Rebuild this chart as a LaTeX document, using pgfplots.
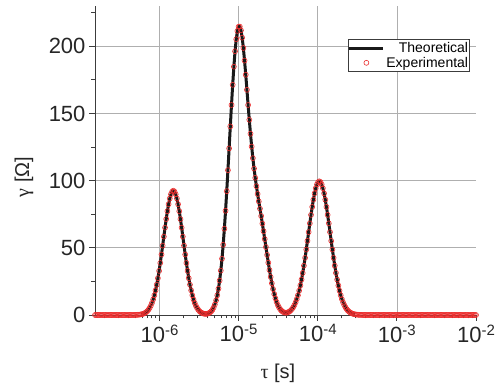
\documentclass[border=0pt]{standalone}
\usepackage{fontspec}
\setmainfont{Liberation Sans}
\newfontfamily\greekfont{Liberation Serif}
\usepackage{pgfplots}
\usepackage{pgfplotstable}
\pgfplotsset{compat=1.18}
\definecolor{axgray}{RGB}{60,60,60}
\definecolor{gridgray}{RGB}{175,175,175}
\definecolor{expred}{RGB}{235,45,45}
\newcommand{\ex}[1]{10\raisebox{7pt}{\fontsize{15}{15}\selectfont #1}}
% x = log10(tau/s), y = gamma in Ohm
\pgfplotstableread[row sep=\\]{
x y\\
-6.815 0\\ -6.800 0\\ -6.785 0\\ -6.770 0\\ -6.755 0\\ -6.740 0\\ -6.725 0\\ -6.710 0\\
-6.695 0\\ -6.680 0\\ -6.665 0\\ -6.650 0\\ -6.635 0\\ -6.620 0\\ -6.605 0\\ -6.590 0\\
-6.575 0\\ -6.560 0\\ -6.545 0\\ -6.530 0\\ -6.515 0\\ -6.500 0\\ -6.485 0\\ -6.470 0\\
-6.455 0\\ -6.440 0\\ -6.425 0\\ -6.410 0\\ -6.395 0\\ -6.380 0\\ -6.365 0\\ -6.350 0\\
-6.335 0\\ -6.320 0\\
-6.305 0.06\\ -6.290 0.09\\ -6.275 0.14\\ -6.260 0.22\\ -6.245 0.33\\ -6.230 0.49\\ -6.215 0.71\\ -6.200 1.03\\
-6.185 1.46\\ -6.170 2.05\\ -6.155 2.84\\ -6.140 3.87\\ -6.125 5.19\\ -6.110 6.88\\ -6.095 8.98\\ -6.080 11.55\\
-6.065 14.64\\ -6.050 18.31\\ -6.035 22.56\\ -6.020 27.40\\ -6.005 32.80\\ -5.990 38.71\\ -5.975 45.02\\ -5.960 51.63\\
-5.945 58.35\\ -5.930 65.00\\ -5.915 71.38\\ -5.900 77.26\\ -5.885 82.44\\ -5.870 86.70\\ -5.855 89.87\\ -5.840 91.84\\
-5.825 92.50\\ -5.810 91.84\\ -5.795 89.87\\ -5.780 86.70\\ -5.765 82.44\\ -5.750 77.26\\ -5.735 71.38\\ -5.720 65.00\\
-5.705 58.35\\ -5.690 51.63\\ -5.675 45.02\\ -5.660 38.71\\ -5.645 32.80\\ -5.630 27.40\\ -5.615 22.56\\ -5.600 18.31\\
-5.585 14.64\\ -5.570 11.55\\ -5.555 8.98\\ -5.540 6.88\\ -5.525 5.19\\ -5.510 3.87\\ -5.495 2.84\\ -5.480 2.10\\
-5.465 1.54\\ -5.450 1.16\\ -5.435 0.92\\ -5.420 0.83\\ -5.405 0.86\\ -5.390 1.04\\ -5.375 1.38\\ -5.360 1.95\\
-5.345 2.79\\ -5.330 3.95\\ -5.315 5.62\\ -5.300 7.86\\ -5.285 10.83\\ -5.270 14.67\\ -5.255 19.54\\ -5.240 25.62\\
-5.225 33.03\\ -5.210 41.89\\ -5.195 52.28\\ -5.180 64.22\\ -5.165 77.57\\ -5.150 92.18\\ -5.135 107.78\\ -5.120 123.98\\
-5.105 140.33\\ -5.090 156.30\\ -5.075 171.32\\ -5.060 184.83\\ -5.045 196.30\\ -5.030 205.28\\ -5.015 211.43\\ -5.000 214.57\\
-4.985 214.67\\ -4.970 211.86\\ -4.955 206.42\\ -4.940 198.75\\ -4.925 189.37\\ -4.910 178.82\\ -4.895 167.62\\ -4.880 156.31\\
-4.865 145.30\\ -4.850 134.91\\ -4.835 125.36\\ -4.820 116.73\\ -4.805 109.01\\ -4.790 102.10\\ -4.775 95.86\\ -4.760 90.07\\
-4.745 84.54\\ -4.730 79.12\\ -4.715 73.66\\ -4.700 68.07\\ -4.685 62.35\\ -4.670 56.51\\ -4.655 50.60\\ -4.640 44.72\\
-4.625 38.97\\ -4.610 33.47\\ -4.595 28.31\\ -4.580 23.58\\ -4.565 19.32\\ -4.550 15.58\\ -4.535 12.37\\ -4.520 9.70\\
-4.505 7.45\\ -4.490 5.68\\ -4.475 4.30\\ -4.460 3.26\\ -4.445 2.51\\ -4.430 2.02\\ -4.415 1.76\\ -4.400 1.70\\
-4.385 1.84\\ -4.370 2.16\\ -4.355 2.70\\ -4.340 3.46\\ -4.325 4.47\\ -4.310 5.77\\ -4.295 7.38\\ -4.280 9.39\\
-4.265 11.83\\ -4.250 14.71\\ -4.235 18.08\\ -4.220 21.97\\ -4.205 26.38\\ -4.190 31.30\\ -4.175 36.71\\ -4.160 42.54\\
-4.145 48.73\\ -4.130 55.16\\ -4.115 61.70\\ -4.100 68.21\\ -4.085 74.52\\ -4.070 80.46\\ -4.055 85.85\\ -4.040 90.54\\
-4.025 94.36\\ -4.010 97.18\\ -3.995 98.91\\ -3.980 99.50\\ -3.965 98.91\\ -3.950 97.18\\ -3.935 94.36\\ -3.920 90.54\\
-3.905 85.85\\ -3.890 80.46\\ -3.875 74.52\\ -3.860 68.21\\ -3.845 61.70\\ -3.830 55.16\\ -3.815 48.73\\ -3.800 42.54\\
-3.785 36.71\\ -3.770 31.30\\ -3.755 26.38\\ -3.740 21.97\\ -3.725 18.08\\ -3.710 14.71\\ -3.695 11.83\\ -3.680 9.39\\
-3.665 7.38\\ -3.650 5.72\\ -3.635 4.39\\ -3.620 3.33\\ -3.605 2.49\\ -3.590 1.84\\ -3.575 1.35\\ -3.560 0.98\\
-3.545 0.70\\ -3.530 0.49\\ -3.515 0.34\\ -3.500 0.24\\ -3.485 0.16\\ -3.470 0.11\\ -3.455 0.07\\ -3.440 0.05\\
-3.425 0\\ -3.410 0\\ -3.395 0\\ -3.380 0\\ -3.365 0\\ -3.350 0\\ -3.335 0\\ -3.320 0\\
-3.305 0\\ -3.290 0\\ -3.275 0\\ -3.260 0\\ -3.245 0\\ -3.230 0\\ -3.215 0\\ -3.200 0\\
-3.185 0\\ -3.170 0\\ -3.155 0\\ -3.140 0\\ -3.125 0\\ -3.110 0\\ -3.095 0\\ -3.080 0\\
-3.065 0\\ -3.050 0\\ -3.035 0\\ -3.020 0\\ -3.005 0\\ -2.990 0\\ -2.975 0\\ -2.960 0\\
-2.945 0\\ -2.930 0\\ -2.915 0\\ -2.900 0\\ -2.885 0\\ -2.870 0\\ -2.855 0\\ -2.840 0\\
-2.825 0\\ -2.810 0\\ -2.795 0\\ -2.780 0\\ -2.765 0\\ -2.750 0\\ -2.735 0\\ -2.720 0\\
-2.705 0\\ -2.690 0\\ -2.675 0\\ -2.660 0\\ -2.645 0\\ -2.630 0\\ -2.615 0\\ -2.600 0\\
-2.585 0\\ -2.570 0\\ -2.555 0\\ -2.540 0\\ -2.525 0\\ -2.510 0\\ -2.495 0\\ -2.480 0\\
-2.465 0\\ -2.450 0\\ -2.435 0\\ -2.420 0\\ -2.405 0\\ -2.390 0\\ -2.375 0\\ -2.360 0\\
-2.345 0\\ -2.330 0\\ -2.315 0\\ -2.300 0\\ -2.285 0\\ -2.270 0\\ -2.255 0\\ -2.240 0\\
-2.225 0\\ -2.210 0\\ -2.195 0\\ -2.180 0\\ -2.165 0\\ -2.150 0\\ -2.135 0\\ -2.120 0\\
-2.105 0\\ -2.090 0\\ -2.075 0\\ -2.060 0\\ -2.045 0\\ -2.030 0\\ -2.015 0\\ -2.000 0\\
}\data
\begin{document}
\begin{tikzpicture}
\useasboundingbox (-95pt,-72pt) rectangle (406pt,315pt);
\begin{axis}[
  scale only axis, width=381pt, height=309pt,
  at={(0pt,0pt)}, anchor=south west,
  xmin=-6.815, xmax=-2, ymin=0, ymax=230,
  clip=false,
  axis x line*=bottom, axis y line*=left,
  axis line style={axgray, line width=0.8pt},
  tick align=outside,
  tick style={axgray, line width=0.8pt},
  major tick length=6pt, minor tick length=3.5pt,
  xtick={-6,-5,-4,-3},
  xticklabels={\ex{-6},\ex{-5},\ex{-4},\ex{-3}},
  extra x ticks={-2}, extra x tick labels={\ex{-2}},
  extra x tick style={grid=none},
  minor xtick={-6.699,-6.523,-6.398,-6.301,-6.222,-6.155,-6.097,-6.046,
               -5.699,-5.523,-5.398,-5.301,-5.222,-5.155,-5.097,-5.046,
               -4.699,-4.523,-4.398,-4.301,-4.222,-4.155,-4.097,-4.046,
               -3.699,-3.523,-3.398,-3.301,-3.222,-3.155,-3.097,-3.046,
               -2.699,-2.523,-2.398,-2.301,-2.222,-2.155,-2.097,-2.046},
  ytick={0,50,100,150,200}, yticklabels={0,50,100,150,200},
  minor ytick={25,75,125,175,225},
  grid=major, major grid style={gridgray, line width=0.7pt},
  ticklabel style={font=\fontsize{22}{22}\selectfont, text=black!85},
  xlabel={{\greekfont τ} [s]},
  ylabel={{\greekfont γ} [Ω]},
  label style={font=\fontsize{20}{20}\selectfont, text=black!85},
  xlabel style={at={(axis description cs:0.48,-0.19)}, anchor=center},
  ylabel style={at={(axis description cs:-0.186,0.447)}, anchor=center},
  legend image code/.code={\draw[mark repeat=2,mark phase=2,#1] plot coordinates {(0pt,0pt) (17pt,0pt) (34pt,0pt)};},
  legend style={at={(axis description cs:0.984,0.893)}, anchor=north east,
    draw=axgray, line width=0.6pt, fill=white, font=\fontsize{14}{14}\selectfont,
    inner xsep=0pt, inner ysep=1.5pt,
    nodes={inner xsep=1.5pt, inner ysep=1.5pt},
    /tikz/every even column/.append style={column sep=0pt},
    row sep=0pt, cells={anchor=east}},
]
\addplot[black!90, line width=3pt, restrict x to domain=-6.24:-3.52] table[x=x,y=y] {\data};
\addlegendentry{Theoretical}
\addplot[only marks, mark=o, mark size=2.5pt, draw=expred, mark options={draw=expred, line width=0.6pt}] table[x=x,y=y] {\data};
\addlegendentry{Experimental}
\end{axis}
\end{tikzpicture}
\end{document}
